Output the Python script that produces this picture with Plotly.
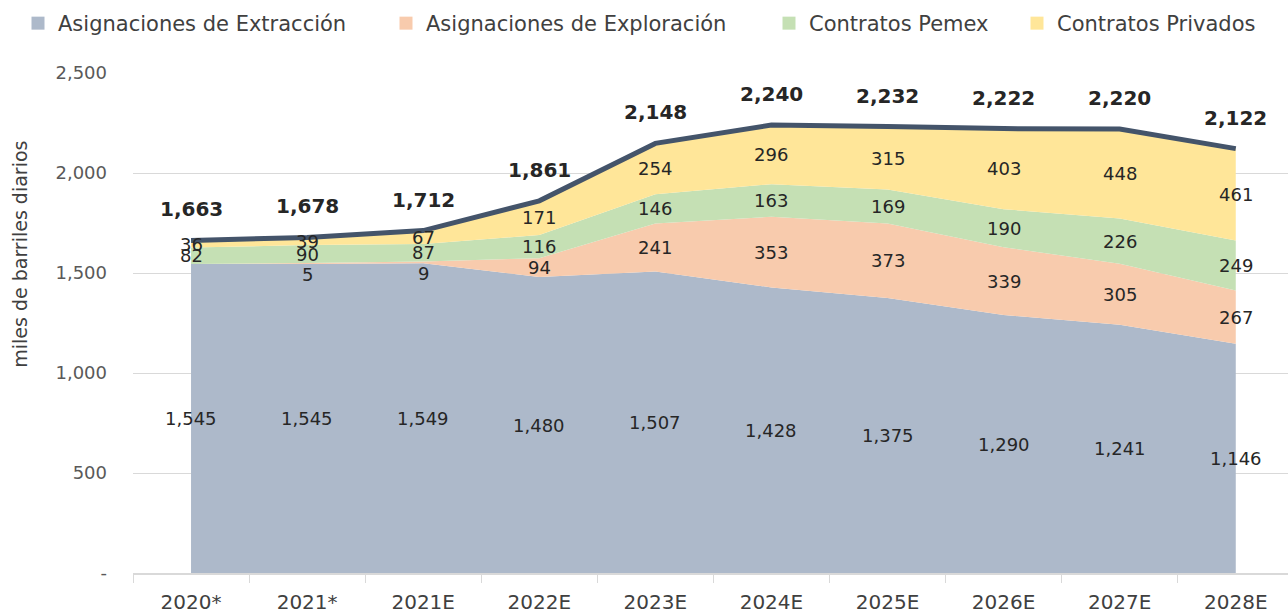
import plotly.graph_objects as go

categories = ["2020*", "2021*", "2021E", "2022E", "2023E", "2024E", "2025E", "2026E", "2027E", "2028E"]
extraccion = [1545, 1545, 1549, 1480, 1507, 1428, 1375, 1290, 1241, 1146]
exploracion = [0, 5, 9, 94, 241, 353, 373, 339, 305, 267]
pemex = [82, 90, 87, 116, 146, 163, 169, 190, 226, 249]
privados = [36, 39, 67, 171, 254, 296, 315, 403, 448, 461]
totales = [1663, 1678, 1712, 1861, 2148, 2240, 2232, 2222, 2220, 2122]

series = [
    ("Asignaciones de Extracción", extraccion, "#ADB9CA"),
    ("Asignaciones de Exploración", exploracion, "#F8CBAD"),
    ("Contratos Pemex", pemex, "#C5E0B4"),
    ("Contratos Privados", privados, "#FFE699"),
]

FONT = "DejaVu Sans"
TXT = "#262626"

fig = go.Figure()
for name, vals, col in series:
    fig.add_trace(go.Scatter(
        x=categories, y=vals, name=name, stackgroup="one", mode="none",
        fill="tonexty", fillcolor=col, line=dict(width=0), hoverinfo="skip",
        showlegend=False,
    ))

fig.add_trace(go.Scatter(
    x=categories, y=totales, mode="lines", line=dict(color="#44546A", width=5),
    showlegend=False, hoverinfo="skip",
))

legend_ids = ["legend", "legend2", "legend3", "legend4"]
for (name, vals, col), lid in zip(series, legend_ids):
    fig.add_trace(go.Scatter(
        x=[None], y=[None], mode="markers", name=name,
        marker=dict(symbol="square", size=13, color=col),
        showlegend=True, legend=lid, hoverinfo="skip",
    ))

annotations = []
base = [0] * len(categories)
for name, vals, col in series:
    for i, v in enumerate(vals):
        if v > 0:
            mid = base[i] + v / 2
            annotations.append(dict(
                x=categories[i], y=mid, text=f"{v:,}", showarrow=False,
                yshift=-11 if v < 20 else 0,
                font=dict(family=FONT, size=18, color=TXT),
            ))
        base[i] += vals[i]

for i, t in enumerate(totales):
    annotations.append(dict(
        x=categories[i], y=t, text=f"<b>{t:,}</b>", showarrow=False, yshift=31,
        font=dict(family=FONT, size=20, color=TXT),
    ))

annotations.append(dict(
    xref="paper", yref="paper", x=-0.098, y=0.638, xanchor="center", yanchor="middle",
    text="miles de barriles diarios", textangle=-90, showarrow=False,
    font=dict(family=FONT, size=19, color="#404040"),
))

legend_font = dict(family=FONT, size=21, color="#404040")
legend_x = [18, 386, 769, 1017]
legends = {}
for lid, lx in zip(legend_ids, legend_x):
    legends[lid] = dict(
        orientation="h", xref="container", yref="container",
        x=lx / 1288, y=1 - 3 / 613, xanchor="left", yanchor="top",
        font=legend_font, bgcolor="rgba(0,0,0,0)",
    )

fig.update_layout(
    width=1288, height=613,
    margin=dict(l=133, r=0, t=73, b=40),
    plot_bgcolor="white", paper_bgcolor="white",
    font=dict(family=FONT, color="#404040"),
    showlegend=True,
    annotations=annotations,
    xaxis=dict(
        type="category", range=[-0.5, 9.45],
        showline=True, linecolor="#D9D9D9", linewidth=1.5,
        ticks="outside", tickson="boundaries", ticklen=8, tickcolor="#D9D9D9",
        tickfont=dict(family=FONT, size=20, color="#404040"),
        ticklabelstandoff=10,
        showgrid=False,
    ),
    yaxis=dict(
        range=[0, 2500],
        tickvals=[0, 500, 1000, 1500, 2000, 2500],
        ticktext=["-", "500", "1,000", "1,500", "2,000", "2,500"],
        showgrid=True, gridcolor="#D9D9D9", gridwidth=1,
        zeroline=False, showline=False,
        tickfont=dict(family=FONT, size=18, color="#595959"),
        ticklabelstandoff=25,
    ),
    **legends,
)

fig.write_html("out.html")
